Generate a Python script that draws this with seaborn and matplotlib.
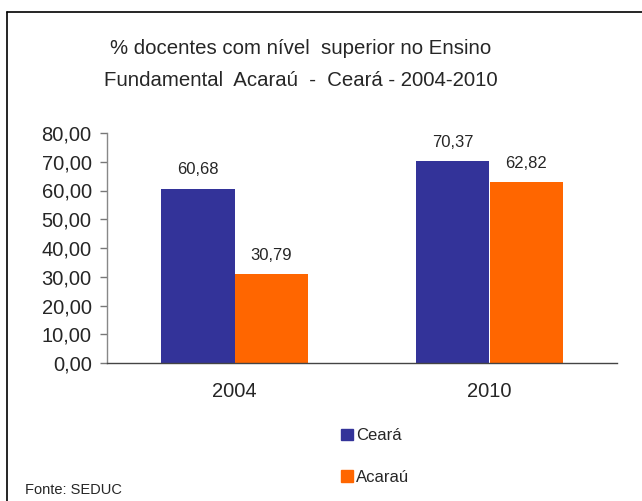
import matplotlib
matplotlib.use("Agg")
import matplotlib.pyplot as plt
import matplotlib.lines as mlines
import matplotlib.patches as mpatches
import seaborn as sns
import pandas as pd

# dados
anos = ["2004", "2010"]
ceara = [60.68, 70.37]
acarau = [30.79, 62.82]
series = ["Ceará", "Acaraú"]
cores = ["#333399", "#FF6600"]
y_ticks = [0, 10, 20, 30, 40, 50, 60, 70, 80]

df = pd.DataFrame({
    "ano": anos * 2,
    "valor": ceara + acarau,
    "local": [series[0]] * len(anos) + [series[1]] * len(anos),
})

sns.set_theme(style="white")
plt.rcParams["font.family"] = ["Liberation Sans", "DejaVu Sans"]

fig = plt.figure(figsize=(6.42, 5.01), dpi=100)
ax = fig.add_axes([107 / 642, 1 - 363 / 501, 510 / 642, 230 / 501])

sns.barplot(data=df, x="ano", y="valor", hue="local", palette=cores,
            width=0.58, saturation=1, linewidth=0, ax=ax, legend=False)

for c in ax.containers:
    ax.bar_label(c, labels=[f"{v:.2f}".replace(".", ",") for v in c.datavalues],
                 padding=8, fontsize=12)

ax.set_xlim(-0.5, 1.5)
ax.set_ylim(0, 80)
ax.set_yticks(y_ticks)
ax.set_yticklabels([f"{v:.2f}".replace(".", ",") for v in y_ticks], fontsize=14.5)
ax.set_xticks([0, 1])
ax.set_xticklabels(anos, fontsize=14.5)
ax.set_xticks([-0.5, 0.5, 1.5], minor=True)
ax.tick_params(axis="x", which="major", length=0, pad=14)
ax.tick_params(axis="x", which="minor", length=5, width=1, color="#444444", direction="out")
ax.tick_params(axis="y", length=5, width=1, color="#777777", direction="out", left=True, pad=6)
ax.set_xlabel("")
ax.set_ylabel("")
for s in ["top", "right"]:
    ax.spines[s].set_visible(False)
ax.spines["left"].set_color("#888888")
ax.spines["bottom"].set_color("#444444")
ax.spines["left"].set_linewidth(1)
ax.spines["bottom"].set_linewidth(1)

fig.text(301 / 642, 1 - 48 / 501, "% docentes com nível  superior no Ensino",
         ha="center", va="center", fontsize=14.7)
fig.text(301 / 642, 1 - 80 / 501, "Fundamental  Acaraú  -  Ceará - 2004-2010",
         ha="center", va="center", fontsize=14.7)

handles = [mpatches.Patch(color=c, label=s) for c, s in zip(cores, series)]
fig.legend(handles=handles, loc="upper left", bbox_to_anchor=(333 / 642, 1 - 420 / 501),
           frameon=False, fontsize=12, handlelength=0.7, handleheight=0.7,
           handletextpad=0.2, labelspacing=1.6, borderpad=0)

fig.text(25 / 642, 1 - 490 / 501, "Fonte: SEDUC", ha="left", va="center", fontsize=10.5)

# moldura
fig.add_artist(mlines.Line2D([7 / 642, 1], [1 - 12 / 501] * 2, color="black", lw=1.2))
fig.add_artist(mlines.Line2D([7 / 642] * 2, [0, 1 - 12 / 501], color="black", lw=1.2))

fig.savefig("out.png", dpi=100)
